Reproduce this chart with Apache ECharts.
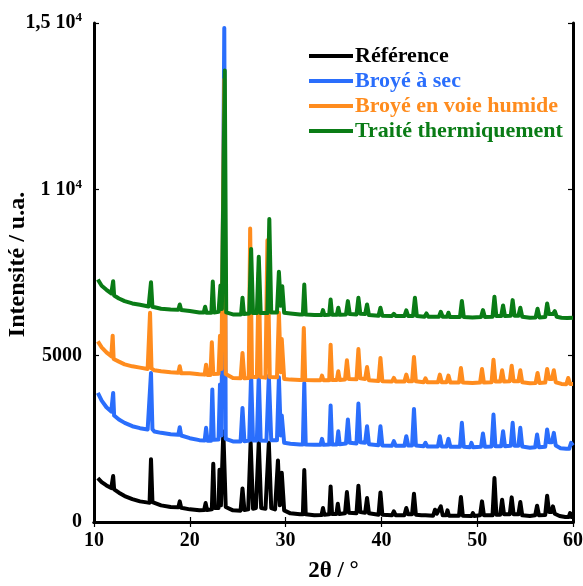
<!DOCTYPE html>
<html>
<head>
<meta charset="utf-8">
<script src="https://cdn.jsdelivr.net/npm/echarts@6/dist/echarts.min.js"></script>
<style>html,body{margin:0;padding:0;background:#fff}#c{width:583px;height:586px}</style>
</head>
<body>
<div id="c"></div>
<script>
const seriesNames = ['Référence', 'Broyé à sec', 'Broyé en voie humide', 'Traité thermiquement'];
const seriesColors = ['#000000', '#2a6efc', '#ff8c1e', '#0a7c16'];
const xTicks = [10, 20, 30, 40, 50, 60];
const yTicks = [0, 5000, 10000, 15000];
const yTickMantissa = ['0', '5000', '1 10', '1,5 10'];
const yTickExponent = ['', '', '4', '4'];

const reference = [[10.4,1320],[10.8,1200],[11.3,1100],[11.8,1020],[11.9,1000],[12.0,1380],[12.1,980],[12.6,880],[13.2,780],[14.0,690],[14.8,620],[15.5,590],[15.8,580],[15.95,1890],[16.1,600],[16.3,540],[17.0,500],[18.0,450],[18.8,440],[18.95,620],[19.1,430],[20.0,380],[21.0,350],[21.5,360],[21.65,570],[21.8,360],[22.3,380],[22.45,1750],[22.6,420],[23.0,420],[23.1,1570],[23.25,500],[23.5,2720],[23.75,450],[24.5,350],[25.3,340],[25.5,1010],[25.7,360],[26.1,380],[26.35,2400],[26.6,400],[26.9,420],[27.2,2410],[27.45,420],[27.9,400],[28.25,2380],[28.5,420],[28.9,380],[29.2,1850],[29.4,500],[29.6,1480],[29.85,350],[30.5,260],[31.5,230],[31.8,230],[31.95,1560],[32.1,230],[33.0,200],[33.75,210],[33.9,420],[34.05,220],[34.55,230],[34.7,1070],[34.85,240],[35.3,240],[35.45,550],[35.6,240],[36.2,260],[36.4,900],[36.6,280],[37.4,260],[37.6,1090],[37.8,300],[38.3,280],[38.5,720],[38.7,260],[39.7,220],[39.9,890],[40.1,220],[41.1,200],[41.3,320],[41.5,200],[42.4,200],[42.6,420],[42.8,230],[43.2,230],[43.4,850],[43.6,220],[44.2,200],[44.4,260],[44.6,200],[45.4,190],[45.6,370],[45.8,250],[46.0,250],[46.2,470],[46.4,200],[46.75,200],[46.9,350],[47.05,190],[48.1,190],[48.3,750],[48.5,190],[49.4,180],[49.55,270],[49.7,180],[50.3,200],[50.5,620],[50.7,200],[51.6,200],[51.8,1320],[52.0,220],[52.4,220],[52.6,670],[52.8,230],[53.4,230],[53.6,740],[53.8,230],[54.3,230],[54.5,600],[54.7,200],[55.5,180],[56.05,200],[56.25,490],[56.45,200],[57.1,210],[57.3,790],[57.5,300],[57.75,300],[57.9,470],[58.1,250],[58.6,180],[59.2,150],[59.55,150],[59.7,270],[59.85,150],[60,150]];

const dryMilled = [[10.4,3880],[10.8,3650],[11.3,3450],[11.8,3320],[11.9,3320],[12.0,3880],[12.1,3200],[12.6,3080],[13.2,2980],[14.0,2880],[14.8,2820],[15.6,2780],[15.8,2780],[15.95,4480],[16.1,2790],[16.3,2720],[17.0,2680],[18.0,2640],[18.8,2620],[18.95,2850],[19.1,2600],[20.0,2520],[21.0,2460],[21.55,2450],[21.7,2830],[21.85,2440],[22.2,2440],[22.35,3980],[22.5,2470],[23.0,2480],[23.15,4130],[23.3,2600],[23.6,14850],[23.75,2500],[24.5,2420],[25.3,2420],[25.5,3430],[25.7,2430],[26.2,2450],[26.4,4430],[26.6,2450],[27.0,2450],[27.2,4430],[27.4,2450],[28.0,2440],[28.25,4400],[28.5,2460],[29.1,2460],[29.3,4350],[29.5,2600],[29.6,3200],[29.85,2380],[30.5,2350],[31.5,2330],[31.8,2330],[31.95,4180],[32.1,2330],[33.0,2320],[33.65,2320],[33.8,2500],[33.95,2320],[34.55,2330],[34.7,3500],[34.85,2330],[35.35,2330],[35.5,2725],[35.65,2340],[36.3,2360],[36.5,3080],[36.7,2380],[37.4,2360],[37.6,3560],[37.8,2400],[38.3,2380],[38.5,2880],[38.7,2340],[39.7,2310],[39.9,2880],[40.1,2300],[41.1,2290],[41.3,2430],[41.5,2290],[42.4,2290],[42.6,2580],[42.8,2300],[43.2,2300],[43.4,3400],[43.6,2300],[44.4,2280],[44.6,2380],[44.8,2270],[45.9,2270],[46.1,2580],[46.3,2270],[46.8,2270],[47.0,2500],[47.2,2260],[48.2,2260],[48.4,2980],[48.6,2260],[49.25,2250],[49.4,2380],[49.55,2250],[50.4,2260],[50.6,2660],[50.8,2260],[51.5,2270],[51.7,3230],[51.9,2280],[52.5,2280],[52.7,2730],[52.9,2280],[53.5,2290],[53.7,2980],[53.9,2290],[54.3,2290],[54.5,2830],[54.7,2270],[55.5,2230],[56.05,2250],[56.25,2630],[56.45,2250],[57.1,2260],[57.3,2780],[57.5,2400],[57.8,2400],[58.0,2680],[58.2,2300],[58.7,2220],[59.3,2200],[59.6,2200],[59.8,2380],[60,2300]];

const wetMilled = [[10.4,5430],[10.8,5250],[11.3,5100],[11.8,4980],[11.85,4980],[11.95,5600],[12.05,4900],[12.6,4820],[13.2,4740],[14.0,4680],[14.8,4640],[15.6,4600],[15.75,4600],[15.85,6290],[16.0,4620],[16.3,4560],[17.0,4530],[18.0,4500],[18.8,4490],[18.95,4680],[19.1,4470],[20.0,4470],[21.0,4440],[21.55,4430],[21.7,4730],[21.85,4420],[22.15,4420],[22.3,5400],[22.45,4450],[23.0,4460],[23.15,5600],[23.3,4600],[23.6,13300],[23.75,4450],[24.5,4330],[25.3,4320],[25.5,5080],[25.7,4320],[26.15,4330],[26.3,8820],[26.5,4360],[27.0,4360],[27.2,7500],[27.4,4360],[27.9,4340],[28.1,8470],[28.35,4360],[29.1,4350],[29.3,6290],[29.5,4500],[29.6,5500],[29.85,4300],[30.5,4280],[31.5,4270],[31.75,4270],[31.9,5830],[32.05,4270],[33.0,4260],[33.65,4260],[33.8,4400],[33.95,4260],[34.55,4260],[34.7,5330],[34.85,4270],[35.35,4270],[35.5,4530],[35.65,4270],[36.2,4280],[36.4,4860],[36.6,4300],[37.4,4290],[37.6,5200],[37.8,4320],[38.3,4300],[38.5,4660],[38.7,4260],[39.7,4240],[39.9,4930],[40.1,4230],[41.1,4220],[41.3,4330],[41.5,4220],[42.4,4220],[42.6,4430],[42.8,4230],[43.2,4230],[43.4,4960],[43.6,4230],[44.4,4200],[44.6,4320],[44.8,4200],[45.9,4200],[46.1,4430],[46.3,4200],[46.8,4200],[47.0,4400],[47.2,4190],[48.1,4190],[48.3,4630],[48.5,4190],[49.5,4180],[50.3,4190],[50.5,4600],[50.7,4190],[51.5,4200],[51.7,4880],[51.9,4220],[52.4,4220],[52.6,4560],[52.8,4220],[53.4,4230],[53.6,4700],[53.8,4230],[54.3,4230],[54.5,4560],[54.7,4200],[55.5,4170],[56.1,4180],[56.3,4480],[56.5,4180],[57.1,4190],[57.3,4600],[57.5,4300],[57.8,4300],[58.0,4560],[58.2,4200],[58.8,4150],[59.3,4140],[59.5,4330],[59.7,4150],[60,4150]];

const heatTreated = [[10.4,7290],[10.8,7100],[11.3,6980],[11.8,6870],[11.9,6860],[12.0,7240],[12.1,6810],[12.6,6720],[13.2,6640],[14.0,6570],[14.8,6530],[15.7,6480],[15.85,6480],[15.95,7210],[16.1,6470],[16.3,6430],[17.0,6410],[18.0,6390],[18.8,6380],[18.95,6540],[19.1,6370],[20.0,6340],[21.0,6300],[21.45,6300],[21.6,6470],[21.75,6290],[22.25,6290],[22.4,7230],[22.55,6300],[23.0,6320],[23.2,7110],[23.35,6400],[23.65,13570],[23.8,6300],[24.5,6240],[25.35,6240],[25.5,6740],[25.65,6250],[26.2,6270],[26.4,8210],[26.6,6280],[27.0,6280],[27.2,7970],[27.4,6280],[28.1,6280],[28.3,9110],[28.5,6300],[29.1,6300],[29.3,7520],[29.5,6500],[29.65,7090],[29.85,6290],[30.5,6270],[31.5,6240],[31.8,6240],[31.95,7140],[32.1,6235],[33.0,6220],[33.75,6220],[33.9,6370],[34.05,6220],[34.55,6230],[34.7,6690],[34.85,6230],[35.35,6230],[35.5,6440],[35.65,6230],[36.3,6240],[36.5,6640],[36.7,6250],[37.4,6240],[37.6,6740],[37.8,6260],[38.3,6250],[38.5,6540],[38.7,6220],[39.7,6200],[39.9,6440],[40.1,6200],[41.1,6190],[41.3,6260],[41.5,6190],[42.4,6190],[42.6,6360],[42.8,6190],[43.3,6190],[43.5,6740],[43.7,6190],[44.5,6170],[44.7,6270],[44.9,6170],[46.0,6170],[46.2,6320],[46.4,6170],[46.85,6170],[47.0,6290],[47.15,6160],[48.2,6160],[48.4,6640],[48.6,6160],[49.5,6150],[50.4,6160],[50.6,6370],[50.8,6160],[51.6,6170],[51.8,6770],[52.0,6190],[52.5,6190],[52.7,6510],[52.9,6190],[53.5,6200],[53.7,6670],[53.9,6200],[54.3,6200],[54.5,6440],[54.7,6170],[55.5,6140],[56.1,6150],[56.3,6410],[56.5,6150],[57.1,6160],[57.3,6570],[57.5,6250],[57.9,6250],[58.1,6340],[58.3,6170],[58.8,6140],[59.4,6130],[60,6140]];

const allData = [reference, dryMilled, wetMilled, heatTreated];

const FONT = "'Liberation Serif', 'Times New Roman', serif";
const chart = echarts.init(document.getElementById('c'), null, {renderer: 'canvas'});

function yLabel(v) {
  const i = yTicks.indexOf(v);
  if (i < 0) return '';
  return yTickExponent[i] ? '{m|' + yTickMantissa[i] + '}{e|' + yTickExponent[i] + '}' : '{m|' + yTickMantissa[i] + '}';
}

const axisLineStyle = {color: '#000', width: 3};
const tickStyle = {color: '#000', width: 1.2};

chart.setOption({
  animation: false,
  backgroundColor: '#fff',
  grid: {left: 94, right: 10, top: 23, bottom: 64, containLabel: false, outerBoundsMode: 'none'},
  legend: {
    orient: 'vertical', left: 304, top: 40,
    icon: 'rect', itemWidth: 44, itemHeight: 4, itemGap: 3,
    textStyle: {fontFamily: FONT, fontWeight: 'bold', fontSize: 22, padding: [0, 0, 0, -3]},
    data: seriesNames.map((n, i) => ({name: n, textStyle: {color: seriesColors[i]}}))
  },
  xAxis: [{
    type: 'value', min: 10, max: 60, interval: 10, position: 'bottom',
    name: '2θ / °', nameLocation: 'middle', nameGap: 38, nameMoveOverlap: false,
    nameTextStyle: {fontFamily: FONT, fontWeight: 'bold', fontSize: 23, color: '#000'},
    axisLine: {show: true, lineStyle: axisLineStyle},
    axisTick: {show: true, inside: true, length: 5, lineStyle: tickStyle},
    axisLabel: {fontFamily: FONT, fontWeight: 'bold', fontSize: 20, color: '#000', margin: 9,
      formatter: v => xTicks.indexOf(v) >= 0 ? String(v) : ''},
    splitLine: {show: false}
  }, {
    type: 'value', min: 10, max: 60, interval: 10, position: 'top',
    axisLine: {show: true, lineStyle: axisLineStyle},
    axisTick: {show: true, inside: true, length: 5, lineStyle: tickStyle},
    axisLabel: {show: false}, splitLine: {show: false}
  }],
  yAxis: [{
    type: 'value', min: 0, max: 15000, interval: 5000, position: 'left',
    name: 'Intensité / u.a.', nameLocation: 'middle', nameGap: 64, nameRotate: 90, nameMoveOverlap: false,
    nameTextStyle: {fontFamily: FONT, fontWeight: 'bold', fontSize: 24, color: '#000', padding: [0, 0, 0, 16]},
    axisLine: {show: true, lineStyle: axisLineStyle},
    axisTick: {show: true, inside: true, length: 5, lineStyle: tickStyle},
    axisLabel: {margin: 12, formatter: yLabel,
      rich: {
        m: {fontFamily: FONT, fontWeight: 'bold', fontSize: 20, color: '#000'},
        e: {fontFamily: FONT, fontWeight: 'bold', fontSize: 13, color: '#000', verticalAlign: 'bottom', padding: [0, 0, 10, 0]}
      }},
    splitLine: {show: false}
  }, {
    type: 'value', min: 0, max: 15000, interval: 5000, position: 'right',
    axisLine: {show: true, lineStyle: axisLineStyle},
    axisTick: {show: true, inside: true, length: 5, lineStyle: tickStyle},
    axisLabel: {show: false}, splitLine: {show: false}
  }],
  series: seriesNames.map((n, i) => ({
    name: n, type: 'line', data: allData[i], xAxisIndex: 0, yAxisIndex: 0,
    showSymbol: false, symbol: 'none', smooth: false,
    lineStyle: {color: seriesColors[i], width: 4, join: 'round'},
    itemStyle: {color: seriesColors[i]},
    z: 2 + i
  }))
});
</script>
</body>
</html>
